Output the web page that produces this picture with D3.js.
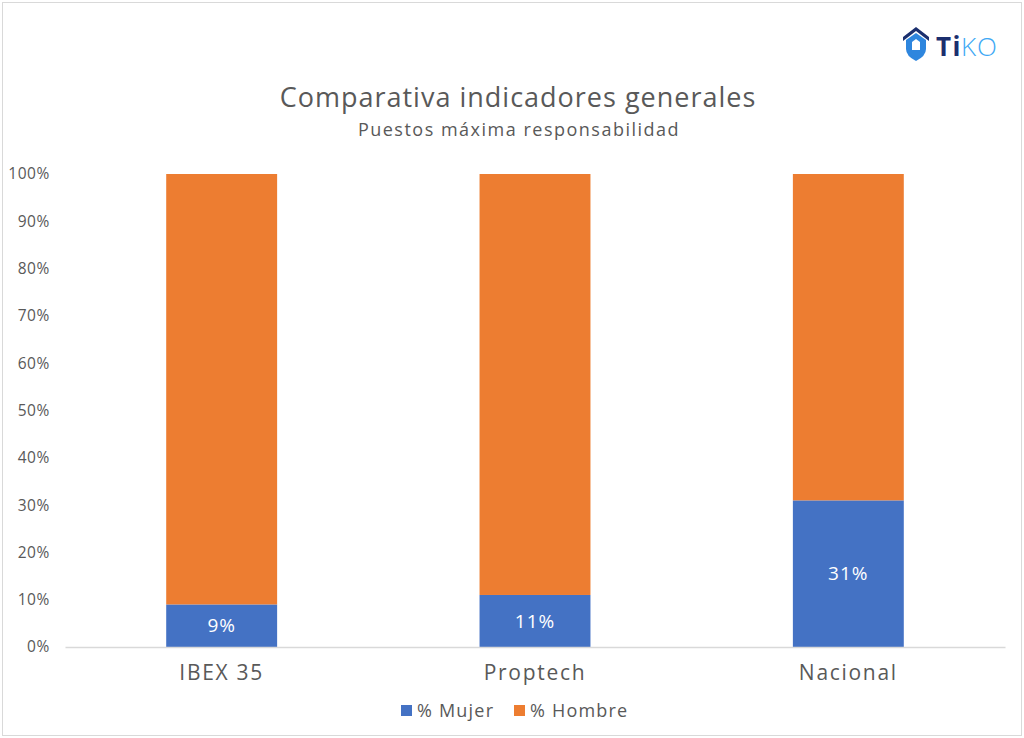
<!DOCTYPE html>
<html>
<head>
<meta charset="utf-8">
<script src="https://cdn.jsdelivr.net/npm/d3@7"></script>
<style>
    body { margin: 0; background: #fff; }
    text { font-family: "Open Sans", "Noto Sans", sans-serif; }
</style>
</head>
<body>
<div id="chart"></div>
<script>
// data
let categories = ["IBEX 35", "Proptech", "Nacional"];
let mujer = [9, 11, 31];
let hombre = [91, 89, 69];
let yTicks = [0, 10, 20, 30, 40, 50, 60, 70, 80, 90, 100];
let seriesNames = ["% Mujer", "% Hombre"];
let seriesColors = ["#4472C4", "#ED7D31"];

let W = 1024, H = 738;
let margin = {top: 174, right: 19, bottom: 91, left: 65};
let width = W - margin.left - margin.right;
let height = H - margin.top - margin.bottom;

let svg = d3.select("#chart").append("svg")
    .attr("width", W)
    .attr("height", H);

// outer frame
svg.append("rect")
    .attr("x", 2.5).attr("y", 2.5)
    .attr("width", W - 5).attr("height", H - 5)
    .attr("fill", "#fff")
    .attr("stroke", "#d9d9d9");

// title
svg.append("text")
    .attr("x", 518).attr("y", 107)
    .attr("text-anchor", "middle")
    .attr("font-size", 27)
    .attr("letter-spacing", 1)
    .attr("fill", "#595959")
    .text("Comparativa indicadores generales");

svg.append("text")
    .attr("x", 519).attr("y", 136)
    .attr("text-anchor", "middle")
    .attr("font-size", 18)
    .attr("letter-spacing", 1.5)
    .attr("fill", "#595959")
    .text("Puestos máxima responsabilidad");

// logo
let logo = svg.append("g").attr("transform", "translate(903,27)");
logo.append("path")
    .attr("d", "M0,10 L13,0 L26,10 L26,14 L13,4 L0,14 Z")
    .attr("fill", "#1B2F6E");
logo.append("path")
    .attr("d", "M3,13 L13,6 L23,13 L23,22 Q23,29 13,34 Q3,29 3,22 Z")
    .attr("fill", "#2E86DE");
logo.append("path")
    .attr("d", "M9,15 L13,12 L17,15 L17,23 L9,23 Z")
    .attr("fill", "#fff");
logo.append("text")
    .attr("x", 33).attr("y", 29)
    .attr("font-size", 26)
    .attr("font-weight", "bold")
    .attr("letter-spacing", 1.5)
    .attr("fill", "#1B2F6E")
    .attr("font-family", "Lato, sans-serif")
    .text("Ti");
logo.append("text")
    .attr("x", 58).attr("y", 29)
    .attr("font-size", 26)
    .attr("font-weight", 300)
    .attr("letter-spacing", 1)
    .attr("fill", "#3FA9F5")
    .attr("font-family", "Lato, sans-serif")
    .text("KO");

let g = svg.append("g")
    .attr("transform", `translate(${margin.left},${margin.top})`);

let x = d3.scaleBand()
    .domain(categories)
    .range([0, width])
    .paddingInner(0.646)
    .paddingOuter(0.323);

let y = d3.scaleLinear()
    .domain([0, 100])
    .range([height, 0]);

// y axis labels
let yAxis = g.append("g")
    .attr("transform", "translate(-12,0)")
    .call(d3.axisLeft(y).tickValues(yTicks).tickSize(0).tickFormat(d => d + "%"));
yAxis.select(".domain").remove();
yAxis.selectAll("text")
    .attr("font-size", 15.5)
    .attr("letter-spacing", 0.6)
    .attr("fill", "#595959")
    .attr("font-family", "'Open Sans', sans-serif");

// stacked bars
let stackData = categories.map((c, i) => ({cat: c, mujer: mujer[i], hombre: hombre[i]}));
let stack = d3.stack().keys(["mujer", "hombre"])(stackData);

g.selectAll(".series")
    .data(stack)
    .enter().append("g")
    .attr("fill", (d, i) => seriesColors[i])
    .selectAll("rect")
    .data(d => d)
    .enter().append("rect")
    .attr("x", d => x(d.data.cat))
    .attr("y", d => y(d[1]))
    .attr("width", x.bandwidth())
    .attr("height", d => y(d[0]) - y(d[1]));

// labels for mujer
g.selectAll(".lbl")
    .data(stackData)
    .enter().append("text")
    .attr("x", d => x(d.cat) + x.bandwidth() / 2)
    .attr("y", d => y(d.mujer / 2))
    .attr("dy", "0.35em")
    .attr("text-anchor", "middle")
    .attr("font-size", 19)
    .attr("letter-spacing", 1)
    .attr("fill", "#fff")
    .text(d => d.mujer + "%");

// x axis
let xAxis = g.append("g")
    .attr("transform", `translate(0,${height})`)
    .call(d3.axisBottom(x).tickSize(0).tickPadding(18));
xAxis.select(".domain").attr("stroke", "#d9d9d9").attr("stroke-width", 1.5);
xAxis.selectAll("text")
    .attr("font-size", 21)
    .attr("letter-spacing", 1.7)
    .attr("fill", "#595959")
    .attr("font-family", "'Open Sans', sans-serif");

// legend
let legend = svg.append("g").attr("transform", "translate(401,711)");
let lx = [0, 113];
seriesNames.forEach((name, i) => {
    let item = legend.append("g").attr("transform", `translate(${lx[i]},0)`);
    item.append("rect")
        .attr("x", 0).attr("y", -6)
        .attr("width", 11).attr("height", 11)
        .attr("fill", seriesColors[i]);
    item.append("text")
        .attr("x", 16).attr("y", 0)
        .attr("dy", "0.35em")
        .attr("font-size", 18)
        .attr("letter-spacing", 1.2)
        .attr("fill", "#595959")
        .text(name);
});
</script>
</body>
</html>
